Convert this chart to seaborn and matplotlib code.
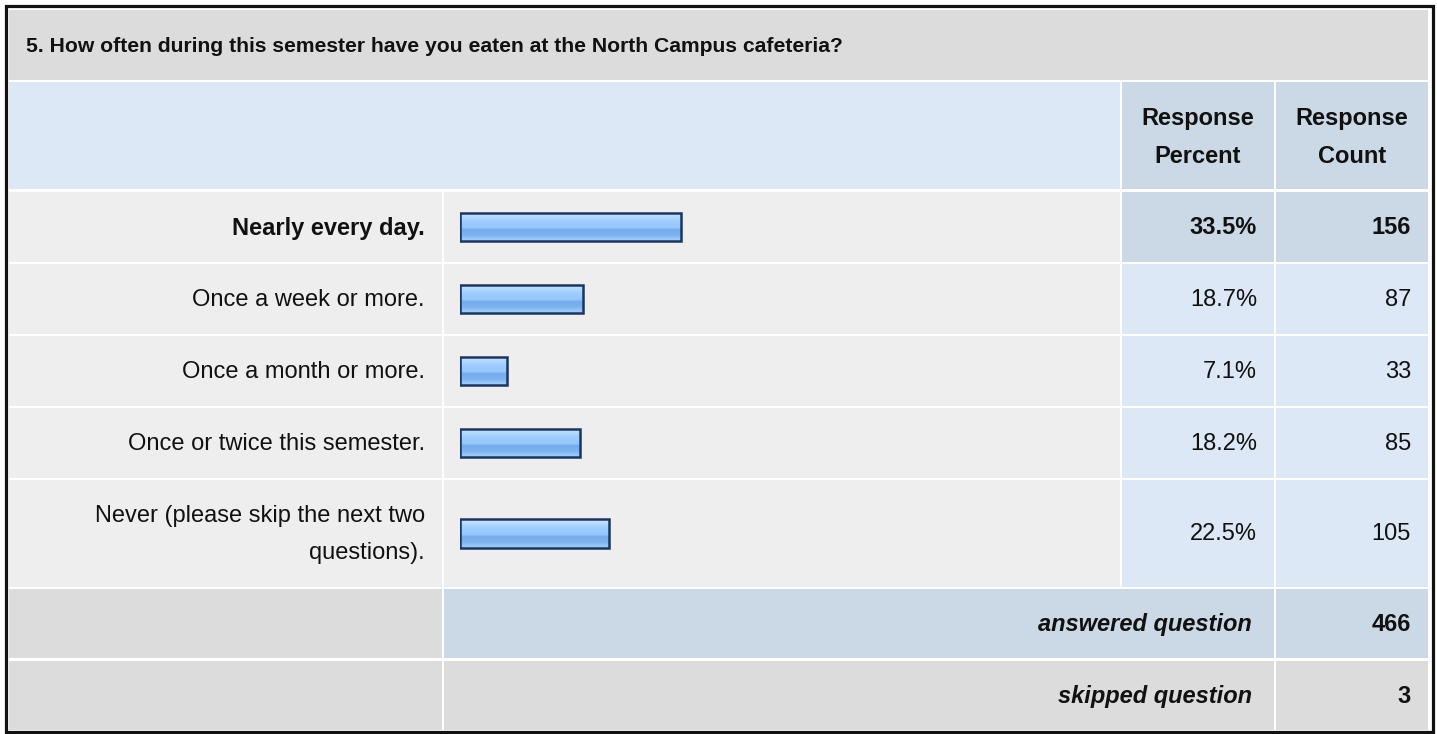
import numpy as np
import pandas as pd
import matplotlib
matplotlib.use("Agg")
import matplotlib.pyplot as plt
import seaborn as sns
from matplotlib.patches import Rectangle
from matplotlib.colors import LinearSegmentedColormap


QUESTION = "5. How often during this semester have you eaten at the North Campus cafeteria?"
ANSWERS = [
    "Nearly every day.",
    "Once a week or more.",
    "Once a month or more.",
    "Once or twice this semester.",
    "Never (please skip the next two\nquestions).",
]
PERCENTS = [33.5, 18.7, 7.1, 18.2, 22.5]
COUNTS = [156, 87, 33, 85, 105]
ANSWERED = 466
SKIPPED = 3

# page layout in pixels
W, H = 1437, 734
COL_LABEL = (9, 442)
COL_BAR = (444, 1120)
COL_PCT = (1122, 1274)
COL_CNT = (1276, 1428)
TITLE_ROW = (10, 80)
HEADER_ROW = (82, 189)
ANSWER_ROWS = [(192, 262), (264, 334), (336, 406), (408, 478), (480, 587)]
ANSWERED_ROW = (589, 658)
SKIPPED_ROW = (661, 730)

GRAY = "#dcdcdc"
LIGHT = "#eeeeee"
BLUE = "#dce8f5"
STEEL = "#cbd8e6"
FONT = "Liberation Sans"
FS = 17
FS_TITLE = 15.2


def cell(ax, cols, rows, color):
    ax.add_patch(Rectangle((cols[0], rows[0]), cols[1] - cols[0], rows[1] - rows[0],
                           facecolor=color, edgecolor="none", zorder=1))


def main():
    sns.set_theme(style="white")
    plt.rcParams["font.family"] = [FONT, "DejaVu Sans"]

    fig = plt.figure(figsize=(W / 100, H / 100), dpi=100)
    fig.patch.set_facecolor("white")

    ax = fig.add_axes([0, 0, 1, 1])
    ax.set_xlim(0, W)
    ax.set_ylim(H, 0)
    ax.axis("off")

    # --------------------------------------------------
    # table background
    # --------------------------------------------------
    cell(ax, (COL_LABEL[0], COL_CNT[1]), TITLE_ROW, GRAY)
    cell(ax, (COL_LABEL[0], COL_BAR[1]), HEADER_ROW, BLUE)
    cell(ax, COL_PCT, HEADER_ROW, STEEL)
    cell(ax, COL_CNT, HEADER_ROW, STEEL)

    for i, rows in enumerate(ANSWER_ROWS):
        cell(ax, COL_LABEL, rows, LIGHT)
        cell(ax, COL_BAR, rows, LIGHT)
        c = STEEL if i == 0 else BLUE
        cell(ax, COL_PCT, rows, c)
        cell(ax, COL_CNT, rows, c)

    cell(ax, COL_LABEL, ANSWERED_ROW, GRAY)
    cell(ax, (COL_BAR[0], COL_PCT[1]), ANSWERED_ROW, STEEL)
    cell(ax, COL_CNT, ANSWERED_ROW, STEEL)
    cell(ax, COL_LABEL, SKIPPED_ROW, GRAY)
    cell(ax, (COL_BAR[0], COL_PCT[1]), SKIPPED_ROW, GRAY)
    cell(ax, COL_CNT, SKIPPED_ROW, GRAY)

    ax.add_patch(Rectangle((5.5, 5.5), W - 10, H - 8, facecolor="none",
                           edgecolor="#111111", linewidth=2.3, zorder=5))

    # --------------------------------------------------
    # texts
    # --------------------------------------------------
    ax.text(26, sum(TITLE_ROW) / 2 + 1, QUESTION, ha="left", va="center",
            fontsize=FS_TITLE, fontweight="bold", color="#111111", zorder=6)
    hy = sum(HEADER_ROW) / 2 + 2
    ax.text(sum(COL_PCT) / 2, hy, "Response\nPercent", ha="center", va="center",
            fontsize=FS, fontweight="bold", color="#111111", linespacing=1.8, zorder=6)
    ax.text(sum(COL_CNT) / 2, hy, "Response\nCount", ha="center", va="center",
            fontsize=FS, fontweight="bold", color="#111111", linespacing=1.8, zorder=6)

    centers = [sum(r) / 2 for r in ANSWER_ROWS]
    for i, (lab, pct, cnt) in enumerate(zip(ANSWERS, PERCENTS, COUNTS)):
        w = "bold" if i == 0 else "normal"
        cy = centers[i] + 1
        ax.text(COL_LABEL[1] - 17, cy, lab, ha="right", va="center", fontsize=FS,
                fontweight=w, color="#111111", linespacing=1.85, zorder=6)
        ax.text(COL_PCT[1] - 17, cy, f"{pct:.1f}%", ha="right", va="center",
                fontsize=FS, fontweight=w, color="#111111", zorder=6)
        ax.text(COL_CNT[1] - 17, cy, f"{cnt}", ha="right", va="center",
                fontsize=FS, fontweight=w, color="#111111", zorder=6)

    ay = sum(ANSWERED_ROW) / 2 + 1
    sy = sum(SKIPPED_ROW) / 2 + 1
    ax.text(COL_PCT[1] - 22, ay, "answered question", ha="right", va="center",
            fontsize=FS, fontweight="bold", style="italic", color="#111111", zorder=6)
    ax.text(COL_CNT[1] - 17, ay, f"{ANSWERED}", ha="right", va="center",
            fontsize=FS, fontweight="bold", color="#111111", zorder=6)
    ax.text(COL_PCT[1] - 22, sy, "skipped question", ha="right", va="center",
            fontsize=FS, fontweight="bold", style="italic", color="#111111", zorder=6)
    ax.text(COL_CNT[1] - 17, sy, f"{SKIPPED}", ha="right", va="center",
            fontsize=FS, fontweight="bold", color="#111111", zorder=6)

    # --------------------------------------------------
    # bars: 100% spans 660 px starting 16 px into the bar column
    # --------------------------------------------------
    x0 = COL_BAR[0] + 16
    ax_bar = fig.add_axes([x0 / W, 0, 660 / W, 1])
    ax_bar.patch.set_alpha(0)

    df = pd.DataFrame({"answer": ANSWERS, "percent": PERCENTS, "row": centers})
    sns.barplot(data=df, x="percent", y="row", orient="y", native_scale=True,
                width=0.4, color="#99ccff", edgecolor="#1b365d", linewidth=1.8,
                saturation=1, ax=ax_bar)

    grad = LinearSegmentedColormap.from_list("glass", [
        (0.0, "#d4e9ff"), (0.15, "#b6d9ff"), (0.3, "#9fceff"),
        (0.55, "#95c7fd"), (0.6, "#78aced"), (0.78, "#7cb1f0"), (1.0, "#a3cfff"),
    ])
    g = np.linspace(0, 1, 64).reshape(-1, 1)
    for p in ax_bar.patches:
        bx, by, bw, bh = p.get_x(), p.get_y(), p.get_width(), p.get_height()
        im = ax_bar.imshow(g, cmap=grad, aspect="auto", interpolation="bilinear",
                           extent=[bx, bx + bw, by + bh, by], zorder=p.get_zorder() - 0.1)
        im.set_clip_path(p)
        p.set_facecolor("none")

    ax_bar.set_xlim(0, 100)
    ax_bar.set_ylim(H, 0)
    ax_bar.axis("off")

    fig.savefig("out.png", dpi=100, facecolor="white")
    plt.close(fig)


if __name__ == "__main__":
    main()
